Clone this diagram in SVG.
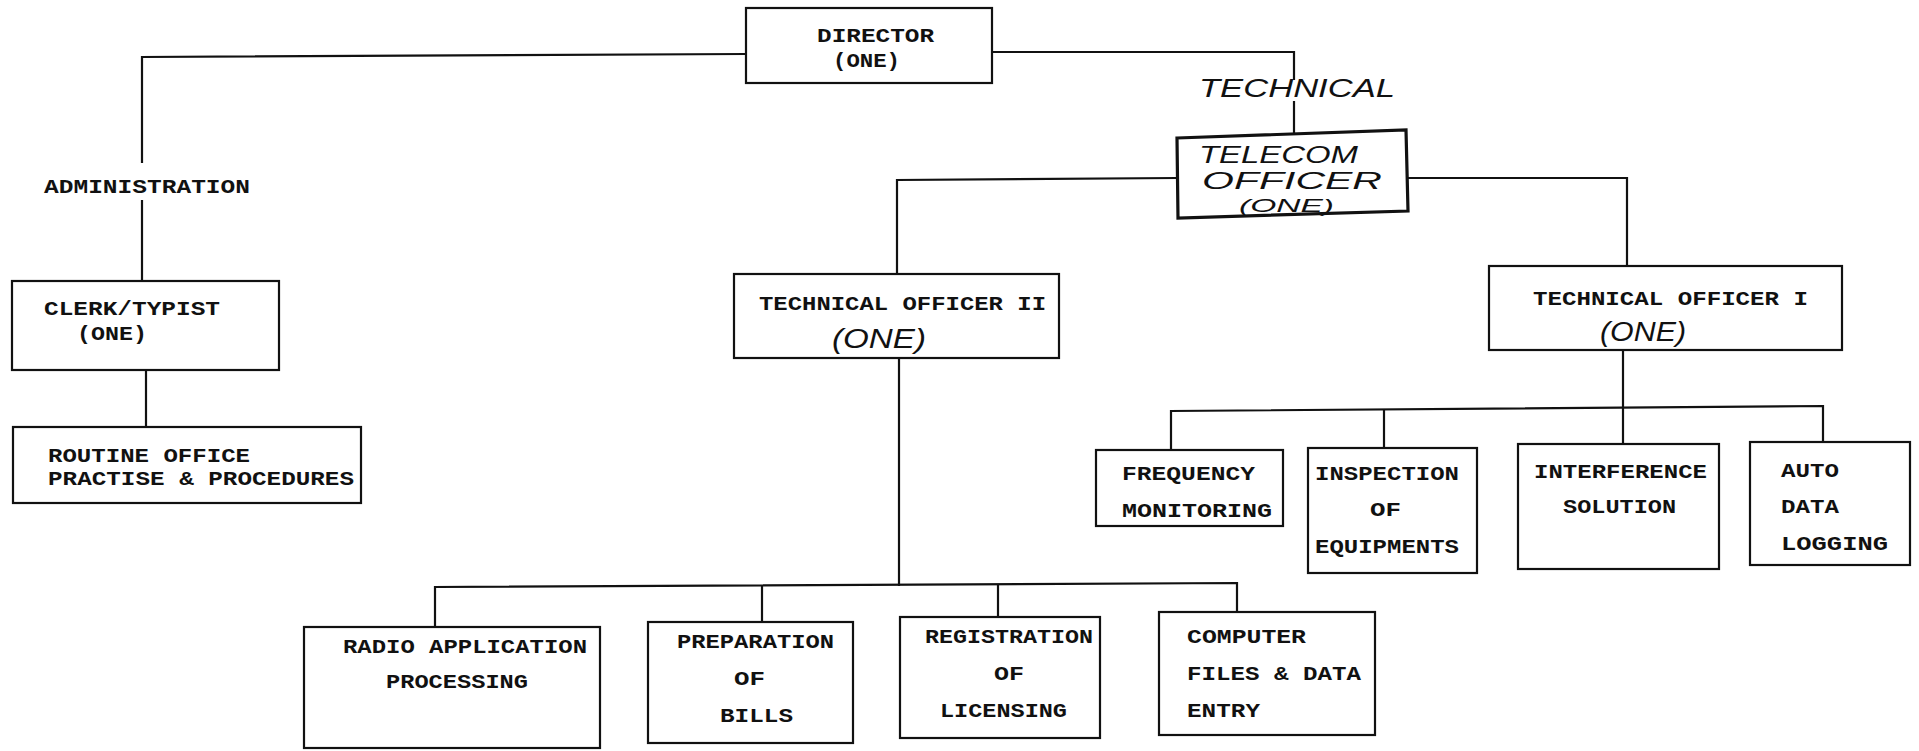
<svg xmlns="http://www.w3.org/2000/svg" width="1919" height="751" viewBox="0 0 1919 751">
<style>
.box{fill:#fff;stroke:#111;stroke-width:2.2}
.ln{fill:none;stroke:#111;stroke-width:2.2}
.t{font-family:"Liberation Mono",monospace;font-weight:bold;font-size:20px;fill:#111}
.h{font-family:"Liberation Sans",sans-serif;font-style:italic;fill:#111}
</style>
<rect width="1919" height="751" fill="#fff"/>
<g id="connectors">
<polyline class="ln" points="746,54 142,57 142,163"/>
<polyline class="ln" points="142,200 142,281"/>
<polyline class="ln" points="146,370 146,427"/>
<polyline class="ln" points="992,52 1294,52 1294,80"/>
<polyline class="ln" points="1294,101 1294,133"/>
<polyline class="ln" points="1177,178 897,180 897,275"/>
<polyline class="ln" points="1407,178 1627,178 1627,267"/>
<polyline class="ln" points="899,357 899,586"/>
<polyline class="ln" points="435,627 435,587 1237,583 1237,612"/>
<polyline class="ln" points="762,586 762,622"/>
<polyline class="ln" points="998,584 998,617"/>
<polyline class="ln" points="1623,350 1623,444"/>
<polyline class="ln" points="1171,450 1171,411 1823,406 1823,442"/>
<polyline class="ln" points="1384,409 1384,448"/>
</g>
<g id="director">
<rect class="box" x="746" y="8" width="246" height="75"/>
<text class="t" x="817" y="42" textLength="117" lengthAdjust="spacingAndGlyphs">DIRECTOR</text>
<text class="t" x="833" y="67" textLength="67" lengthAdjust="spacingAndGlyphs">(ONE)</text>
</g>
<g id="administration">
<text class="t" x="44" y="193" textLength="206" lengthAdjust="spacingAndGlyphs">ADMINISTRATION</text>
</g>
<g id="technical">
<text class="h" x="1199" y="97" font-size="25" textLength="196" lengthAdjust="spacingAndGlyphs">TECHNICAL</text>
</g>
<g id="clerk">
<rect class="box" x="12" y="281" width="267" height="89"/>
<text class="t" x="44" y="315" textLength="176" lengthAdjust="spacingAndGlyphs">CLERK/TYPIST</text>
<text class="t" x="77" y="340" textLength="70" lengthAdjust="spacingAndGlyphs">(ONE)</text>
</g>
<g id="routine">
<rect class="box" x="13" y="427" width="348" height="76"/>
<text class="t" x="48" y="462" textLength="202" lengthAdjust="spacingAndGlyphs">ROUTINE OFFICE</text>
<text class="t" x="48" y="485" textLength="306" lengthAdjust="spacingAndGlyphs">PRACTISE &amp; PROCEDURES</text>
</g>
<g id="telecom">
<polygon points="1177,138 1406,130 1408,211 1178,218" fill="#fff" stroke="#111" stroke-width="3.2"/>
<text class="h" x="1199" y="163" font-size="24" textLength="159" lengthAdjust="spacingAndGlyphs">TELECOM</text>
<text class="h" x="1202" y="189" font-size="23" textLength="180" lengthAdjust="spacingAndGlyphs">OFFICER</text>
<text class="h" x="1239" y="212" font-size="18" textLength="95" lengthAdjust="spacingAndGlyphs">(ONE)</text>
</g>
<g id="tech-officer-2">
<rect class="box" x="734" y="274" width="325" height="84"/>
<text class="t" x="759" y="310" textLength="287" lengthAdjust="spacingAndGlyphs">TECHNICAL OFFICER II</text>
<text class="h" x="832" y="348" font-size="28" textLength="94" lengthAdjust="spacingAndGlyphs">(ONE)</text>
</g>
<g id="tech-officer-1">
<rect class="box" x="1489" y="266" width="353" height="84"/>
<text class="t" x="1533" y="305" textLength="275" lengthAdjust="spacingAndGlyphs">TECHNICAL OFFICER I</text>
<text class="h" x="1600" y="341" font-size="27" textLength="86" lengthAdjust="spacingAndGlyphs">(ONE)</text>
</g>
<g id="frequency">
<rect class="box" x="1096" y="450" width="187" height="76"/>
<text class="t" x="1122" y="480" textLength="133" lengthAdjust="spacingAndGlyphs">FREQUENCY</text>
<text class="t" x="1122" y="517" textLength="150" lengthAdjust="spacingAndGlyphs">MONITORING</text>
</g>
<g id="inspection">
<rect class="box" x="1308" y="448" width="169" height="125"/>
<text class="t" x="1315" y="480" textLength="144" lengthAdjust="spacingAndGlyphs">INSPECTION</text>
<text class="t" x="1370" y="516" textLength="31" lengthAdjust="spacingAndGlyphs">OF</text>
<text class="t" x="1315" y="553" textLength="144" lengthAdjust="spacingAndGlyphs">EQUIPMENTS</text>
</g>
<g id="interference">
<rect class="box" x="1518" y="444" width="201" height="125"/>
<text class="t" x="1534" y="478" textLength="173" lengthAdjust="spacingAndGlyphs">INTERFERENCE</text>
<text class="t" x="1563" y="513" textLength="113" lengthAdjust="spacingAndGlyphs">SOLUTION</text>
</g>
<g id="auto">
<rect class="box" x="1750" y="442" width="160" height="123"/>
<text class="t" x="1781" y="477" textLength="58" lengthAdjust="spacingAndGlyphs">AUTO</text>
<text class="t" x="1781" y="513" textLength="58" lengthAdjust="spacingAndGlyphs">DATA</text>
<text class="t" x="1781" y="550" textLength="107" lengthAdjust="spacingAndGlyphs">LOGGING</text>
</g>
<g id="radio">
<rect class="box" x="304" y="627" width="296" height="121"/>
<text class="t" x="343" y="653" textLength="244" lengthAdjust="spacingAndGlyphs">RADIO APPLICATION</text>
<text class="t" x="386" y="688" textLength="142" lengthAdjust="spacingAndGlyphs">PROCESSING</text>
</g>
<g id="preparation">
<rect class="box" x="648" y="622" width="205" height="121"/>
<text class="t" x="677" y="648" textLength="157" lengthAdjust="spacingAndGlyphs">PREPARATION</text>
<text class="t" x="734" y="685" textLength="31" lengthAdjust="spacingAndGlyphs">OF</text>
<text class="t" x="720" y="722" textLength="73" lengthAdjust="spacingAndGlyphs">BILLS</text>
</g>
<g id="registration">
<rect class="box" x="900" y="617" width="200" height="121"/>
<text class="t" x="925" y="643" textLength="168" lengthAdjust="spacingAndGlyphs">REGISTRATION</text>
<text class="t" x="994" y="680" textLength="30" lengthAdjust="spacingAndGlyphs">OF</text>
<text class="t" x="940" y="717" textLength="127" lengthAdjust="spacingAndGlyphs">LICENSING</text>
</g>
<g id="computer">
<rect class="box" x="1159" y="612" width="216" height="123"/>
<text class="t" x="1187" y="643" textLength="119" lengthAdjust="spacingAndGlyphs">COMPUTER</text>
<text class="t" x="1187" y="680" textLength="174" lengthAdjust="spacingAndGlyphs">FILES &amp; DATA</text>
<text class="t" x="1187" y="717" textLength="73" lengthAdjust="spacingAndGlyphs">ENTRY</text>
</g>
</svg>
